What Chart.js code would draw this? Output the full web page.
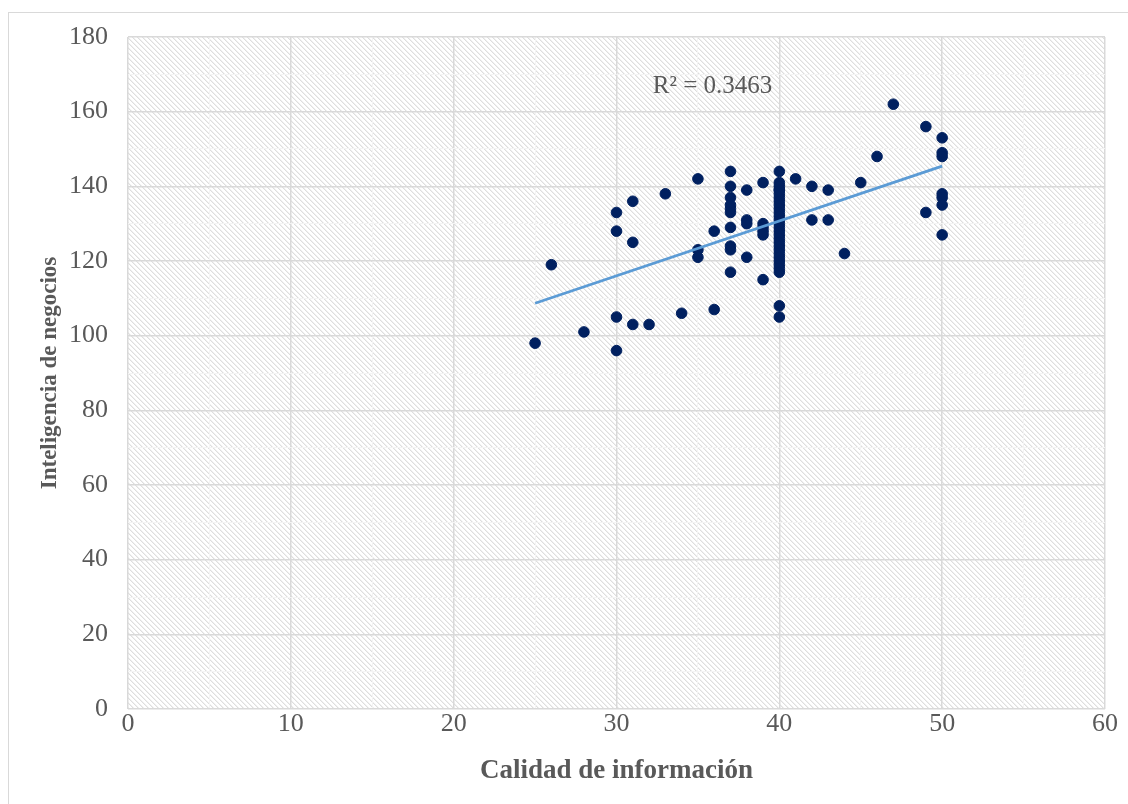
<!DOCTYPE html>
<html>
<head>
<meta charset="utf-8">
<script src="https://cdn.jsdelivr.net/npm/chart.js@4.4.1/dist/chart.umd.min.js"></script>
<style>
  body { margin: 0; background: #fff; }
  #wrap { width: 1128px; height: 804px; }
</style>
</head>
<body>
<div id="wrap"><canvas id="scatterChart" width="1128" height="804"></canvas></div>
<script>
// calidad de informacion (x) vs inteligencia de negocios (y)
const calidadX = [
    25, 26, 28,
    30, 30, 30, 30,
    31, 31, 31,
    32, 33, 34,
    35, 35, 35,
    36, 36,
    37, 37, 37, 37, 37, 37, 37, 37, 37, 37,
    38, 38, 38, 38,
    39, 39, 39, 39, 39, 39,
    40, 40, 40, 40, 40, 40, 40, 40, 40, 40, 40, 40, 40, 40, 40, 40, 40, 40, 40, 40, 40, 40, 40, 40, 40, 40, 40, 40, 40,
    41, 42, 42, 43, 43, 44, 45, 46, 47, 49, 49,
    50, 50, 50, 50, 50, 50, 50
];
const inteligenciaY = [
    98, 119, 101,
    133, 128, 105, 96,
    136, 125, 103,
    103, 138, 106,
    142, 123, 121,
    128, 107,
    144, 140, 137, 135, 134, 133, 129, 124, 123, 117,
    139, 131, 130, 121,
    141, 130, 129, 128, 127, 115,
    144, 141, 140, 139, 138, 137, 136, 135, 134, 133, 132, 131, 130, 129, 128, 127, 126, 125, 124, 123, 122, 121, 120, 119, 118, 117, 108, 105, 139,
    142, 140, 131, 139, 131, 122, 141, 148, 162, 156, 133,
    153, 149, 148, 138, 137, 135, 127
];
// linear trend line as drawn in the picture
const trendX = [25, 50];
const trendY = [108.7, 145.4];
const r2Label = 'R² = 0.3463';

const xTitle = 'Calidad de información';
const yTitle = 'Inteligencia de negocios';

const serif = "'Liberation Serif', 'Times New Roman', serif";

function makeHatch() {
    const p = 5;
    const c = document.createElement('canvas');
    c.width = p; c.height = p;
    const ctx = c.getContext('2d');
    const img = ctx.createImageData(p, p);
    for (let y = 0; y < p; y++) {
        for (let x = 0; x < p; x++) {
            const k = ((x - y) % p + p) % p;
            let v = 255;
            if (k === 0) v = 222;
            else if (k === 1) v = 240;
            const i = (y * p + x) * 4;
            img.data[i] = v; img.data[i + 1] = v; img.data[i + 2] = v; img.data[i + 3] = 255;
        }
    }
    ctx.putImageData(img, 0, 0);
    return c;
}

const hatchPlugin = {
    id: 'hatch',
    beforeDraw(chart) {
        const { ctx, chartArea: a } = chart;
        ctx.save();
        ctx.fillStyle = '#fff';
        ctx.fillRect(0, 0, chart.width, chart.height);
        ctx.strokeStyle = '#d9d9d9';
        ctx.lineWidth = 1;
        ctx.strokeRect(8.5, 12.5, chart.width + 20, chart.height + 20);
        ctx.fillStyle = ctx.createPattern(makeHatch(), 'repeat');
        ctx.fillRect(a.left, a.top, a.right - a.left, a.bottom - a.top);
        ctx.restore();
    },
    afterDatasetsDraw(chart) {
        const { ctx, scales } = chart;
        ctx.save();
        ctx.font = '25px ' + serif;
        ctx.fillStyle = '#595959';
        ctx.textAlign = 'center';
        ctx.textBaseline = 'middle';
        ctx.fillText(r2Label, scales.x.getPixelForValue(35.9), scales.y.getPixelForValue(166.8));
        ctx.restore();
    }
};

const points = calidadX.map((x, i) => ({ x: x, y: inteligenciaY[i] }));
const trend = trendX.map((x, i) => ({ x: x, y: trendY[i] }));

const config = {
    type: 'scatter',
    data: {
        datasets: [{
            label: 'Datos',
            data: points,
            backgroundColor: '#002060',
            borderColor: '#002060',
            pointRadius: 5.3,
            pointHoverRadius: 5.3,
            order: 2
        }, {
            label: 'Tendencia',
            type: 'line',
            data: trend,
            borderColor: '#5b9bd5',
            borderWidth: 2.75,
            pointRadius: 0,
            fill: false,
            order: 1
        }]
    },
    options: {
        responsive: false,
        animation: false,
        layout: { padding: { left: 36, top: 37, right: 23, bottom: 17 } },
        plugins: {
            legend: { display: false },
            tooltip: { enabled: false }
        },
        scales: {
            x: {
                type: 'linear',
                min: 0, max: 60,
                border: { display: false },
                ticks: {
                    stepSize: 5,
                    color: '#595959',
                    font: { family: serif, size: 26 },
                    padding: 0,
                    maxRotation: 0,
                    callback: v => (v % 10 === 0 ? v : '')
                },
                grid: {
                    color: c => (c.tick && c.tick.value % 10 === 0 ? '#d9d9d9' : '#f4f4f4'),
                    lineWidth: c => (c.tick && c.tick.value % 10 === 0 ? 1.5 : 1),
                    drawTicks: false
                },
                title: {
                    display: true,
                    text: xTitle,
                    color: '#595959',
                    font: { family: serif, size: 27, weight: 'bold' },
                    padding: { top: 0, bottom: 0 }
                },
                afterFit: s => { s.height = 78; }
            },
            y: {
                type: 'linear',
                min: 0, max: 180,
                border: { display: false },
                ticks: {
                    stepSize: 10,
                    color: '#595959',
                    font: { family: serif, size: 26 },
                    padding: 20,
                    callback: v => (v % 20 === 0 ? v : '')
                },
                grid: {
                    color: c => (c.tick && c.tick.value % 20 === 0 ? '#d9d9d9' : '#f4f4f4'),
                    lineWidth: c => (c.tick && c.tick.value % 20 === 0 ? 1.5 : 1),
                    drawTicks: false
                },
                title: {
                    display: true,
                    text: yTitle,
                    color: '#595959',
                    font: { family: serif, size: 23, weight: 'bold' },
                    padding: { top: 0, bottom: 0 }
                },
                afterFit: s => { s.width = 92; }
            }
        }
    },
    plugins: [hatchPlugin]
};

new Chart(document.getElementById('scatterChart'), config);
</script>
</body>
</html>
